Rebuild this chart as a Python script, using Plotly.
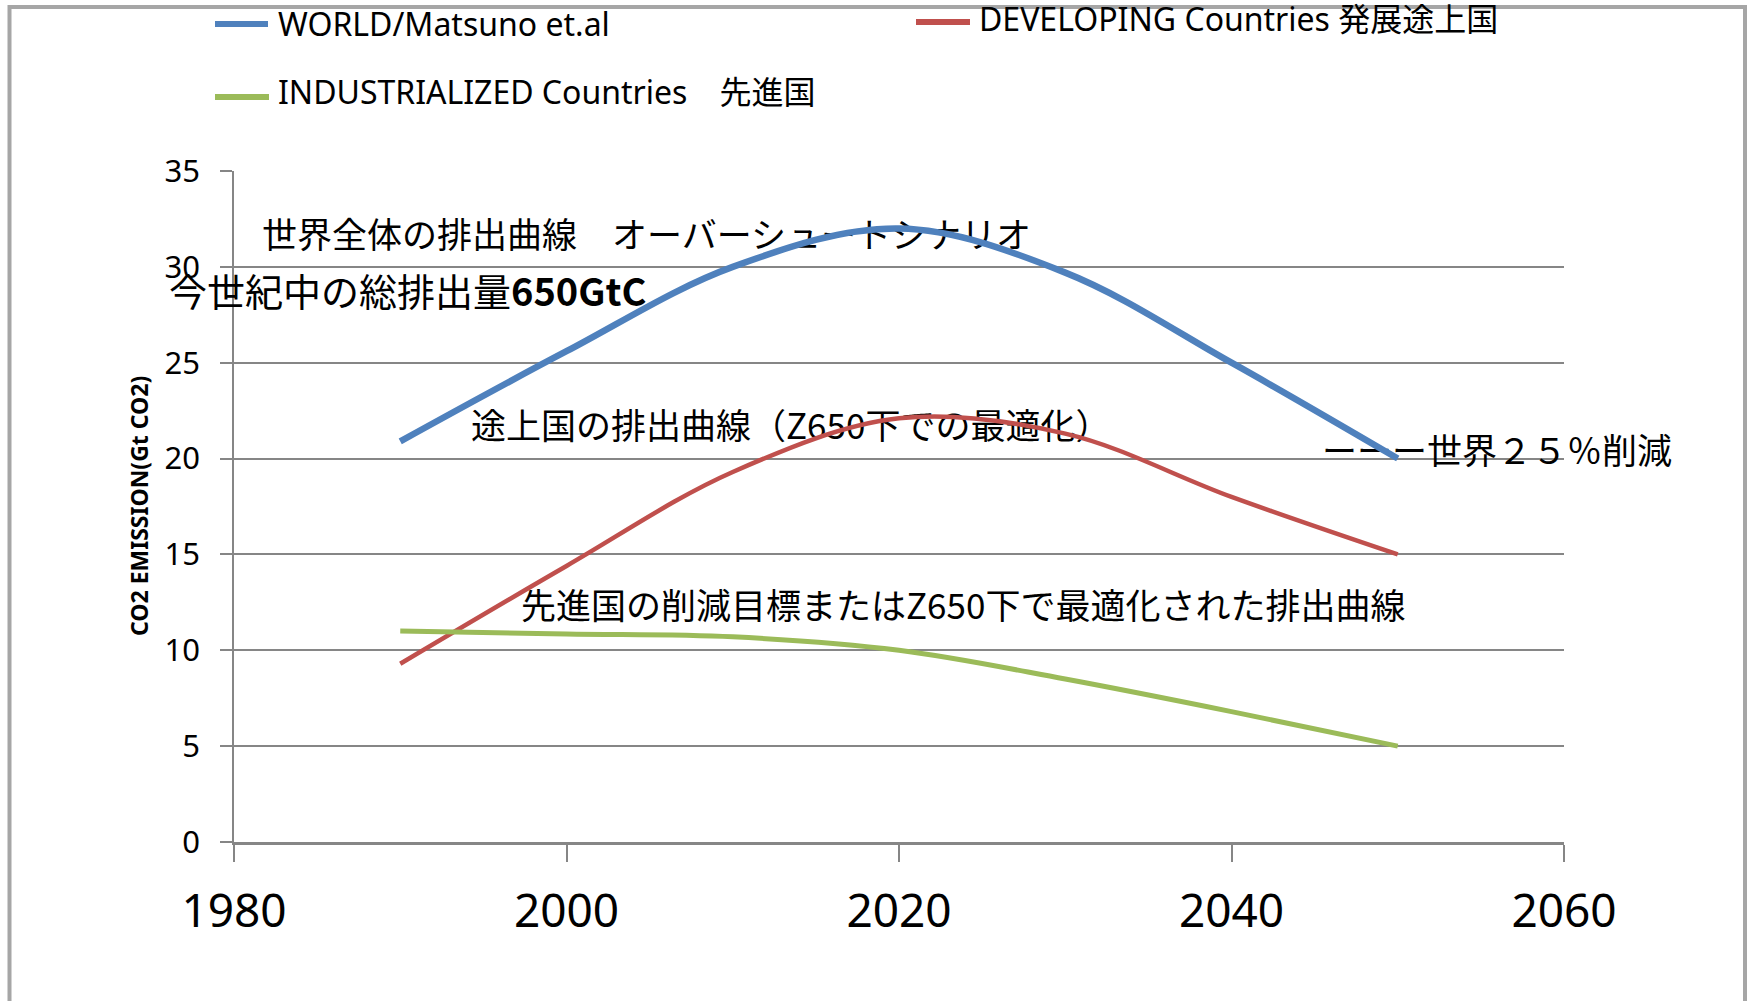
import plotly.graph_objects as go

# ---------------- data ----------------
years = [1990, 2000, 2010, 2020, 2030, 2040, 2050]
world = [20.9, 25.6, 30.0, 32.0, 29.7, 25.0, 20.0]
developing = [9.3, 14.4, 19.3, 22.1, 21.3, 18.0, 15.0]
industrialized = [11.0, 10.85, 10.7, 10.0, 8.5, 6.8, 5.0]

series_names = ["WORLD/Matsuno et.al",
                "DEVELOPING Countries 発展途上国",
                "INDUSTRIALIZED Countries　先進国"]
x_ticks = [1980, 2000, 2020, 2040, 2060]
y_ticks = [0, 5, 10, 15, 20, 25, 30, 35]
y_title = "CO2 EMISSION(Gt CO2)"

notes = ["世界全体の排出曲線　オーバーシュートシナリオ",
         "途上国の排出曲線（Z650下での最適化）",
         "ーーー世界２５％削減",
         "先進国の削減目標またはZ650下で最適化された排出曲線"]
total_note = "今世紀中の総排出量<b>650GtC</b>"

# ---------------- layout geometry ----------------
W, H = 1750, 1001
L, R, T, B = 234, 186, 171, 159
PW, PH = W - L - R, H - T - B
XMIN, XMAX, YMIN, YMAX = 1980, 2060, 0, 35

def px_x(px):
    return (px - L) / PW

def px_y(py):
    return (H - B - py) / PH

def data_x(px):
    return XMIN + (px - L) / PW * (XMAX - XMIN)

def data_y(py):
    return YMIN + (H - B - py) / PH * (YMAX - YMIN)

note_pos = [(262, 239), (471, 430), (1322, 455), (521, 610)]
total_pos = (167, 289)

BLUE, RED, GREEN = "#4F81BD", "#C0504D", "#9BBB59"
GRID = "#868686"
CJK = "Noto Sans CJK JP, Noto Sans, sans-serif"
LAT = "Noto Sans, Noto Sans CJK JP, sans-serif"

fig = go.Figure()

# text labels first so that the curves are drawn above them
fig.add_trace(go.Scatter(
    x=[data_x(p[0]) for p in note_pos],
    y=[data_y(p[1]) for p in note_pos],
    mode="text", text=notes, textposition="middle right",
    textfont=dict(family=CJK, size=35, color="black"),
    cliponaxis=False, showlegend=False, hoverinfo="skip"))

for name, vals, col, w in [(series_names[0], world, BLUE, 6.5),
                           (series_names[1], developing, RED, 4.5),
                           (series_names[2], industrialized, GREEN, 5)]:
    fig.add_trace(go.Scatter(
        x=years, y=vals, name=name, mode="lines",
        line=dict(color=col, width=w, shape="spline", smoothing=1.0),
        cliponaxis=False, showlegend=False))

shapes = []
annotations = []

# manual legend
legend_items = [(series_names[0], BLUE, 215, 268, 24, 276, 23),
                (series_names[1], RED, 916, 970, 22, 977, 19),
                (series_names[2], GREEN, 215, 269, 97, 276, 91)]
for name, col, x0, x1, ly, tx, ty in legend_items:
    shapes.append(dict(type="line", xref="paper", yref="paper",
                       x0=px_x(x0), x1=px_x(x1), y0=px_y(ly), y1=px_y(ly),
                       line=dict(color=col, width=6)))
    annotations.append(dict(text=name, xref="paper", yref="paper",
                            x=px_x(tx), y=px_y(ty), xanchor="left", yanchor="middle",
                            showarrow=False,
                            font=dict(family=LAT, size=32, color="black")))

# outer border (drawn over legend text, as in the reference)
shapes.append(dict(type="rect", xref="paper", yref="paper",
                   x0=px_x(9.5), x1=px_x(1745), y0=px_y(7), y1=px_y(1030),
                   line=dict(color="#A6A6A6", width=4), layer="above"))

# note on the total emission
annotations.append(dict(text=total_note, xref="paper", yref="paper",
                        x=px_x(total_pos[0]), y=px_y(total_pos[1]),
                        xanchor="left", yanchor="middle", showarrow=False,
                        font=dict(family=CJK, size=38, color="black")))

# y-axis title
annotations.append(dict(text="<b>" + y_title + "</b>", xref="paper", yref="paper",
                        x=px_x(139), y=px_y(506), xanchor="center", yanchor="middle",
                        textangle=-90, showarrow=False,
                        font=dict(family=LAT, size=23, color="black")))

fig.update_layout(
    width=W, height=H,
    margin=dict(l=L, r=R, t=T, b=B),
    paper_bgcolor="white", plot_bgcolor="white",
    showlegend=False,
    shapes=shapes, annotations=annotations,
    xaxis=dict(range=[XMIN, XMAX], tickvals=x_ticks, ticks="outside",
               ticklen=17, tickwidth=1.5, tickcolor=GRID,
               showgrid=False, zeroline=False, showline=True,
               linecolor=GRID, linewidth=3,
               ticklabelstandoff=10,
               tickfont=dict(family=LAT, size=46, color="black")),
    yaxis=dict(range=[YMIN, YMAX], tickvals=y_ticks, ticks="outside",
               ticklen=12, tickwidth=1.5, tickcolor=GRID,
               showgrid=True, gridcolor=GRID, gridwidth=1.5,
               zeroline=False, showline=True, linecolor=GRID, linewidth=1.5,
               ticklabelstandoff=14,
               tickfont=dict(family=LAT, size=31, color="black")),
)

fig.write_html("out.html")
